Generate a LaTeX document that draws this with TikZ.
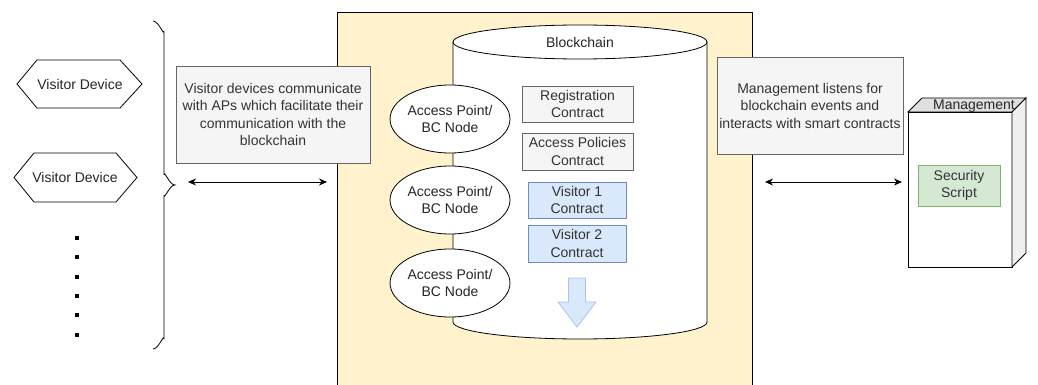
\documentclass[tikz,border=0pt]{standalone}
\usepackage{fontspec}
\setmainfont{Liberation Sans}
\usetikzlibrary{arrows.meta,shapes.geometric}
\definecolor{yel}{HTML}{FFF2CC}
\definecolor{gfill}{HTML}{F5F5F5}
\definecolor{gline}{HTML}{666666}
\definecolor{gtext}{HTML}{333333}
\definecolor{bfill}{HTML}{DAE8FC}
\definecolor{bline}{HTML}{6C8EBF}
\definecolor{grfill}{HTML}{D5E8D4}
\definecolor{grline}{HTML}{82B366}
\definecolor{arfill}{HTML}{DAE8FC}
\definecolor{arline}{HTML}{A9C4EB}
\definecolor{cubetop}{HTML}{E0E0E0}
\definecolor{cubeside}{HTML}{F0F0F0}
\tikzset{
  base/.style={line width=0.8pt},
  gbox/.style={base,draw=gline,fill=gfill,text=gtext,align=center,inner sep=2pt},
  bbox/.style={base,draw=bline,fill=bfill,text=gtext,align=center,inner sep=2pt},
  grbox/.style={base,draw=grline,fill=grfill,text=gtext,align=center,inner sep=2pt},
  apnode/.style={base,draw,fill=white,ellipse,minimum width=96,minimum height=68,inner sep=0pt,align=center,text=black!85},
  hexshape/.style={base,draw,fill=white},
  dbl/.style={base,{Stealth[length=8pt,width=7pt]}-{Stealth[length=8pt,width=7pt]}},
  plain/.style={align=center,inner sep=0pt,text=black!85}
}
\begin{document}
\begin{tikzpicture}[x=1pt,y=-1pt,font=\fontsize{14}{17.5}\selectfont]
\useasboundingbox (0,0) rectangle (1038,385);
% yellow area
\fill[yel] (337,12) rectangle (752,386);
\draw[base] (337,386) -- (337,12) -- (752,12) -- (752,386);
% cylinder
\draw[base,fill=white] (453,42) -- (453,322) arc[start angle=180,end angle=0,x radius=127,y radius=17] -- (707,42) arc[start angle=0,end angle=-180,x radius=127,y radius=17] -- cycle;
\draw[base] (453,42) arc[start angle=180,end angle=0,x radius=127,y radius=17];
\node[plain] (bc) at (580,42) {Blockchain};
% access points
\node[apnode] (ap1) at (450,119) {Access Point/\\BC Node};
\node[apnode] (ap2) at (450,200) {Access Point/\\BC Node};
\node[apnode] (ap3) at (450,283) {Access Point/\\BC Node};
% contracts
\node[gbox,minimum width=111,minimum height=36] (reg) at (577.5,104) {Registration\\Contract};
\node[gbox,minimum width=111,minimum height=37] (acc) at (577.5,151.5) {Access Policies\\Contract};
\node[bbox,minimum width=98,minimum height=36] (v1) at (577,200) {Visitor 1\\Contract};
\node[bbox,minimum width=98,minimum height=37] (v2) at (577,243.5) {Visitor 2\\Contract};
% down arrow
\draw[base,draw=arline,fill=arfill] (568.5,278) -- (585.5,278) -- (585.5,302) -- (596,302) -- (577,327) -- (558,302) -- (568.5,302) -- cycle;
% visitor devices
\draw[hexshape] (17,84) -- (37,60) -- (120,60) -- (142,84) -- (120,108) -- (37,108) -- cycle;
\node[plain] (vd1) at (80,84) {Visitor Device};
\draw[hexshape] (14,177.5) -- (34,153) -- (116,153) -- (137,177.5) -- (116,202) -- (34,202) -- cycle;
\node[plain] (vd2) at (75,177.5) {Visitor Device};
% dots
\foreach \yy in {238,257,277,296,315,335} \fill (75,\yy-2) rectangle (79,\yy+2);
% brace
\draw[base] (153,21) to[out=0,in=-90] (164,31) -- (164,175) to[out=90,in=180] (175,185) to[out=180,in=-90] (164,195) -- (164,339) to[out=90,in=0] (153,349);
% text boxes
\node[gbox,minimum width=194,minimum height=97] (ltxt) at (273,114.5) {Visitor devices communicate\\with APs which facilitate their\\communication with the\\blockchain};
\node[gbox,minimum width=186,minimum height=97] (rtxt) at (810,105.5) {Management listens for\\blockchain events and\\interacts with smart contracts};
% arrows
\coordinate (la) at (188,182);
\coordinate (lb) at (327,182);
\coordinate (ra) at (765,182);
\coordinate (rb) at (902,182);
\draw[dbl] (la) -- (lb);
\draw[dbl] (ra) -- (rb);
% management cube
\draw[base,fill=white] (908,112) rectangle (1012,267);
\draw[base,fill=cubetop] (908,112) -- (922,98) -- (1026,98) -- (1012,112) -- cycle;
\draw[base,fill=cubeside] (1012,112) -- (1026,98) -- (1026,253) -- (1012,267) -- cycle;
\node[plain] (mg) at (974,106) {Management};
\node[grbox,minimum width=82,minimum height=41] (sec) at (959,185.5) {Security\\Script};
\end{tikzpicture}
\end{document}
